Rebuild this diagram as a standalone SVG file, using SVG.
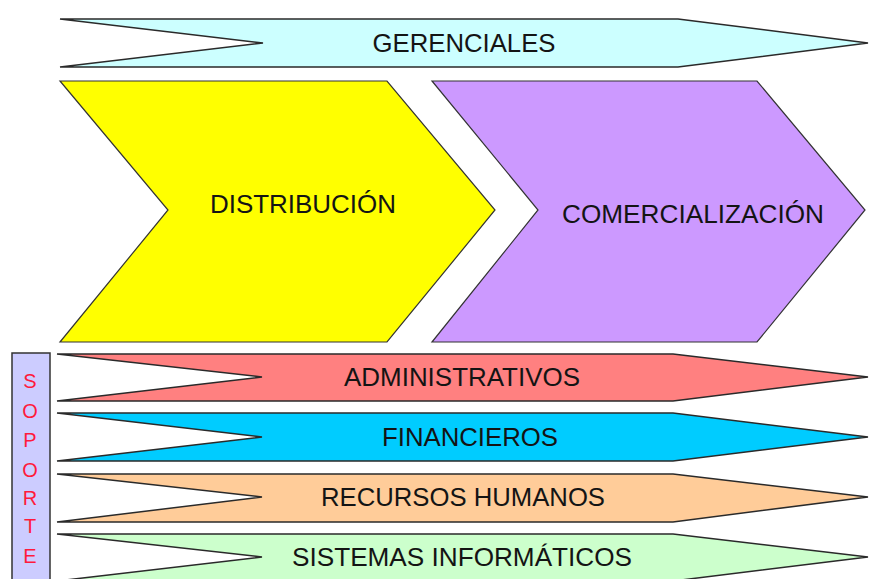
<svg xmlns="http://www.w3.org/2000/svg" width="869" height="579" viewBox="0 0 869 579">
  <style>
    .band { stroke: #2a2a2a; stroke-width: 1.5; stroke-linejoin: miter; }
    .chev { stroke: #333; stroke-width: 1.2; }
    .lbl { font-family: "Liberation Sans", Arial, sans-serif; font-size: 26.5px; fill: #141414; text-anchor: middle; }
    .sop { font-family: "Liberation Sans", Arial, sans-serif; font-size: 20px; fill: #ff1a3c; text-anchor: middle; }
  </style>
  <rect width="869" height="579" fill="#ffffff"/>
  <g id="gerenciales">
    <polygon class="band" points="60,19 678,19 868,43 678,67 60,67 263,43" fill="#ccffff"/>
    <text class="lbl" x="464" y="52" textLength="183" lengthAdjust="spacingAndGlyphs">GERENCIALES</text>
  </g>
  <g id="distribucion">
    <polygon class="chev" points="60,81 387,81 495,210 387,342 60,342 168,210" fill="#ffff00"/>
    <text class="lbl" x="303" y="213" textLength="186" lengthAdjust="spacingAndGlyphs">DISTRIBUCIÓN</text>
  </g>
  <g id="comercializacion">
    <polygon class="chev" points="432,81 757,81 865,210 757,342 432,342 538,210" fill="#cc99ff"/>
    <text class="lbl" x="693" y="223" textLength="262" lengthAdjust="spacingAndGlyphs">COMERCIALIZACIÓN</text>
  </g>
  <g id="soporte">
    <rect x="12" y="353" width="38" height="232" fill="#ccccff" stroke="#333" stroke-width="1.5"/>
    <text class="sop" x="30" y="388">S</text>
    <text class="sop" x="30" y="418">O</text>
    <text class="sop" x="30" y="447">P</text>
    <text class="sop" x="30" y="477">O</text>
    <text class="sop" x="30" y="505">R</text>
    <text class="sop" x="30" y="533">T</text>
    <text class="sop" x="30" y="563">E</text>
  </g>
  <g id="administrativos">
    <polygon class="band" points="57,354 673,354 868,377 673,401 57,401 262,377" fill="#ff8080"/>
    <text class="lbl" x="462" y="386" textLength="236" lengthAdjust="spacingAndGlyphs">ADMINISTRATIVOS</text>
  </g>
  <g id="financieros">
    <polygon class="band" points="57,413 673,413 868,437 673,461 57,461 262,437" fill="#00ccff"/>
    <text class="lbl" x="470" y="446" textLength="176" lengthAdjust="spacingAndGlyphs">FINANCIEROS</text>
  </g>
  <g id="recursos-humanos">
    <polygon class="band" points="57,474 673,474 868,497 673,522 57,522 262,497" fill="#ffcc99"/>
    <text class="lbl" x="463" y="506" textLength="284" lengthAdjust="spacingAndGlyphs">RECURSOS HUMANOS</text>
  </g>
  <g id="sistemas-informaticos">
    <polygon class="band" points="57,534 673,534 868,557 673,581 57,581 262,557" fill="#ccffcc"/>
    <text class="lbl" x="462" y="566" textLength="340" lengthAdjust="spacingAndGlyphs">SISTEMAS INFORMÁTICOS</text>
  </g>
  <g id="connectors"></g>
</svg>
